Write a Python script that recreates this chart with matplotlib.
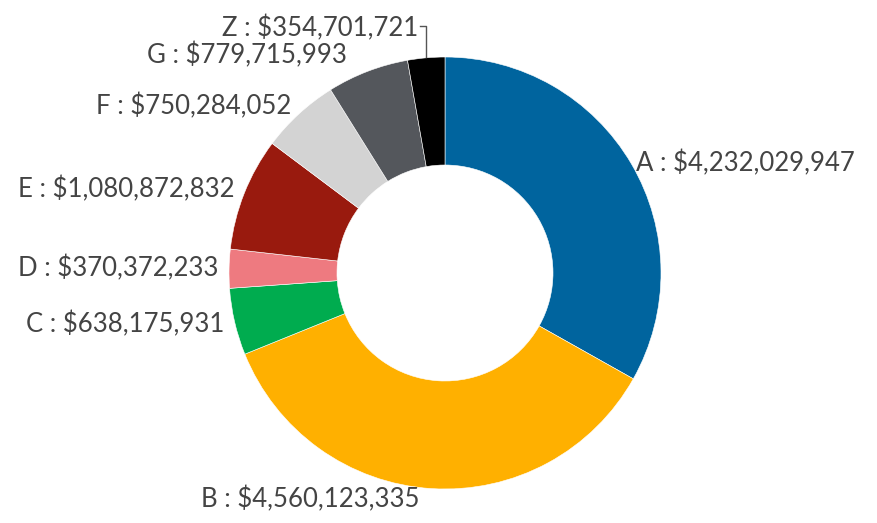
import numpy as np
import matplotlib.pyplot as plt

labels = ["A", "B", "C", "D", "E", "F", "G", "Z"]
values = [4232029947, 4560123335, 638175931, 370372233, 1080872832, 750284052, 779715993, 354701721]
colors = ["#00649e", "#ffb000", "#00ac4f", "#ee7a80", "#991a0e", "#d3d3d3", "#54575c", "#000000"]

plt.rcParams['font.family'] = ['Lato', 'DejaVu Sans']

W, H = 877, 523
fig = plt.figure(figsize=(W / 100, H / 100), dpi=100)
cx, cy, R = 445, 273, 216
# axes square around donut centre, in pixels
ax = fig.add_axes([(cx - R) / W, (H - cy - R) / H, 2 * R / W, 2 * R / H])

wedges, _ = ax.pie(values, colors=colors, startangle=90, counterclock=False,
                   radius=1.0, wedgeprops=dict(width=0.5, edgecolor='white', linewidth=0.4))
ax.set_xlim(-1, 1)
ax.set_ylim(-1, 1)
ax.set_aspect('equal')
ax.axis('off')

# small nudges (in radius units) where labels sit off the plain radial spot
nudge = {"A": (-0.02, -0.02), "B": (-0.05, 0.0), "G": (-0.08, 0.03)}

txtcol = '#444444'
fs = 18.5
for w, lab, v in zip(wedges, labels, values):
    mid = np.deg2rad((w.theta1 + w.theta2) / 2)
    x, y = np.cos(mid), np.sin(mid)
    s = f"{lab} : ${v:,}"
    if lab == "Z":
        # leader line up to the label
        tx, ty = x * 1.0, 1.135
        ax.plot([tx, tx, tx - 0.03], [1.0, ty + 0.01, ty + 0.01], color='#555555', lw=1.0,
                clip_on=False)
        ax.text(tx - 0.035, ty, s, ha='right', va='center', fontsize=fs, color=txtcol)
        continue
    r = 1.05
    dx, dy = nudge.get(lab, (0, 0))
    ha = 'left' if x > 0.1 else 'right'
    ax.text(r * x + dx, r * y + dy, s, ha=ha, va='center', fontsize=fs, color=txtcol)

fig.savefig('out.png', dpi=100)
